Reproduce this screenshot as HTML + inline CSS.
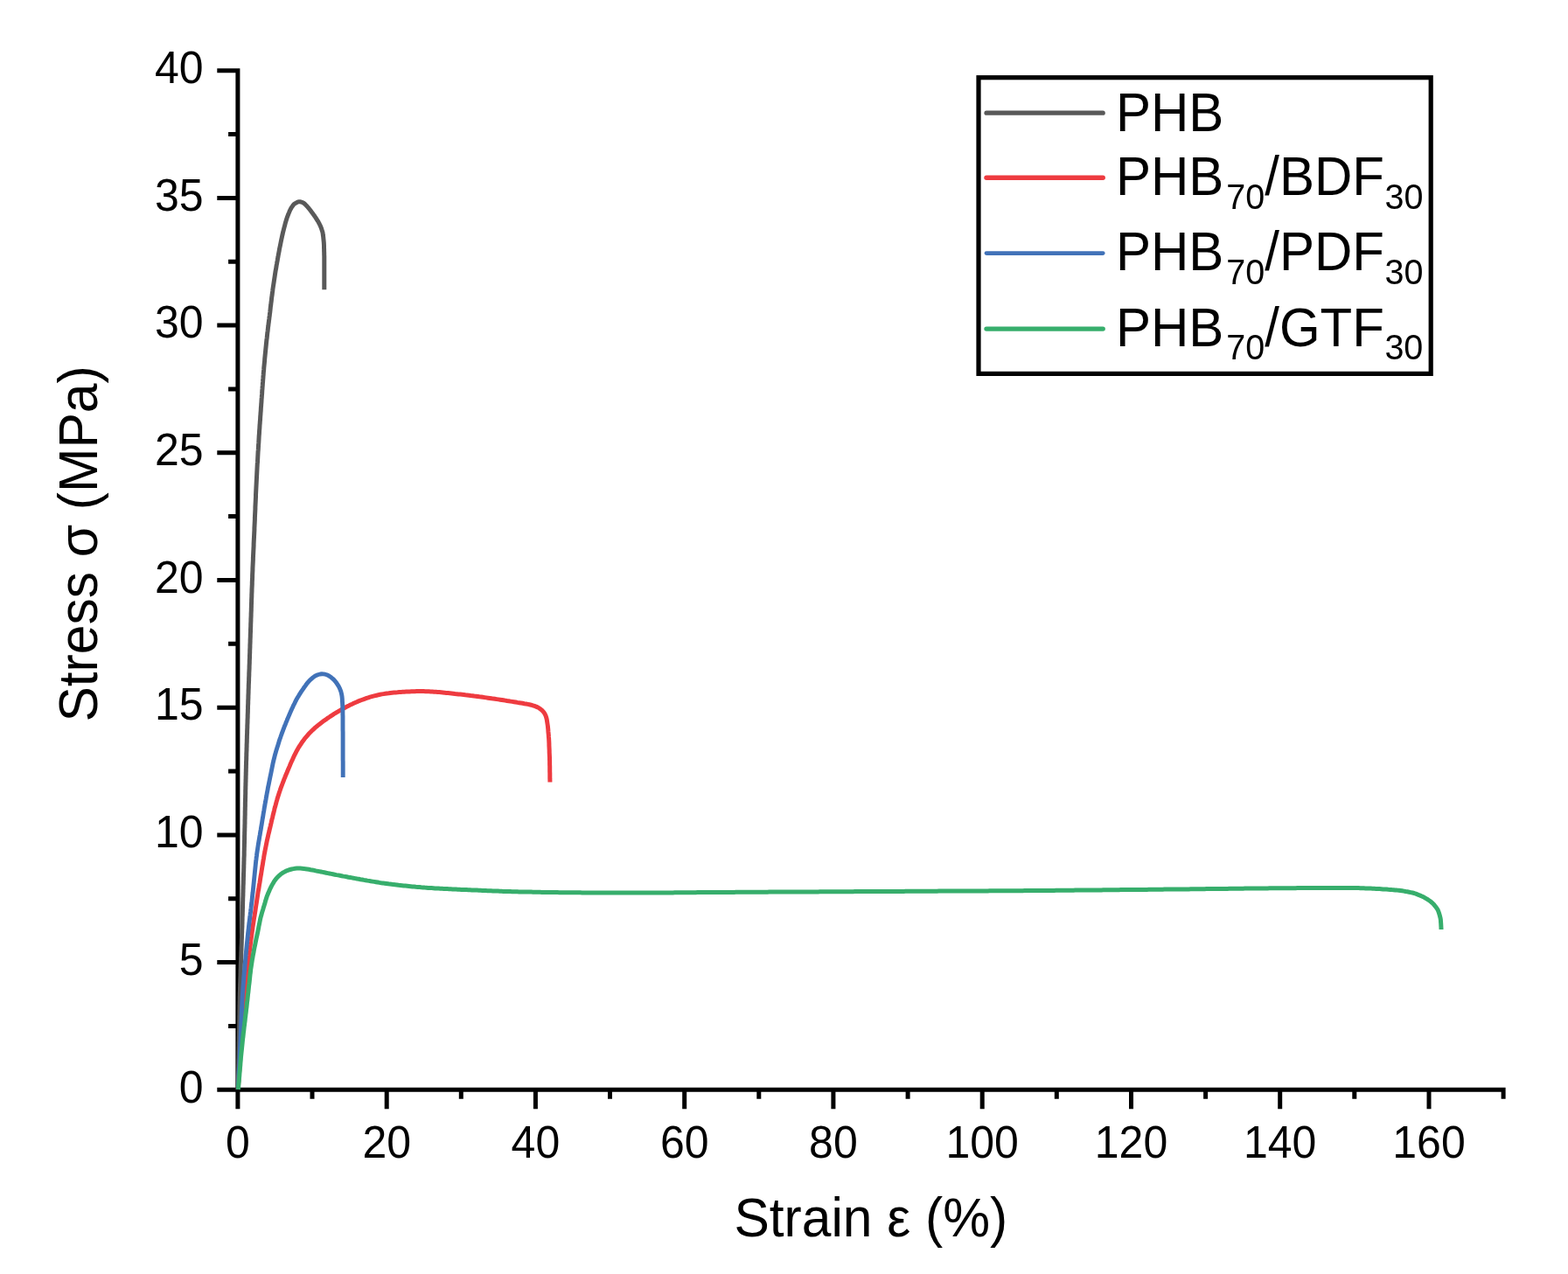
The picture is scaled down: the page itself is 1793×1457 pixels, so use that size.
<!DOCTYPE html>
<html><head><meta charset="utf-8"><title>Stress-strain curves</title>
<style>html,body{margin:0;padding:0;background:#fff;}body{width:1793px;height:1457px;overflow:hidden;}svg{display:block;}text{font-family:"Liberation Sans",Arial,sans-serif;fill:#000;}</style>
</head><body>
<svg width="1793" height="1457" viewBox="0 0 1793 1457">
<rect width="1793" height="1457" fill="#fff"/>
<path d="M271.9,78.2V1248.8 M269.4,1246.3H1721.6 M248.3,1246.3H271.9 M261.1,1173.5H271.9 M248.3,1100.6H271.9 M261.1,1027.8H271.9 M248.3,954.9H271.9 M261.1,882.0H271.9 M248.3,809.2H271.9 M261.1,736.3H271.9 M248.3,663.5H271.9 M261.1,590.6H271.9 M248.3,517.8H271.9 M261.1,444.9H271.9 M248.3,372.1H271.9 M261.1,299.2H271.9 M248.3,226.4H271.9 M261.1,153.5H271.9 M248.3,80.7H271.9 M271.9,1246.3V1268.3 M357.0,1246.3V1256.8 M442.2,1246.3V1268.3 M527.3,1246.3V1256.8 M612.4,1246.3V1268.3 M697.5,1246.3V1256.8 M782.7,1246.3V1268.3 M867.8,1246.3V1256.8 M952.9,1246.3V1268.3 M1038.1,1246.3V1256.8 M1123.2,1246.3V1268.3 M1208.3,1246.3V1256.8 M1293.5,1246.3V1268.3 M1378.6,1246.3V1256.8 M1463.7,1246.3V1268.3 M1548.8,1246.3V1256.8 M1634.0,1246.3V1268.3 M1719.1,1246.3V1256.8" fill="none" stroke="#000" stroke-width="5.0" stroke-linecap="butt"/>
<path d="M272.2,1246.0L272.2,1244.0 272.3,1242.0 272.3,1240.0 272.4,1238.0 272.4,1236.0 272.5,1234.0 272.5,1232.0 272.5,1230.0 272.6,1228.0 272.6,1226.0 272.7,1224.0 272.7,1222.0 272.8,1220.0 272.8,1218.0 272.9,1216.0 272.9,1214.0 272.9,1212.0 273.0,1210.0 273.0,1208.0 273.1,1206.0 273.1,1204.0 273.1,1202.0 273.2,1200.0 273.2,1198.0 273.3,1196.0 273.3,1194.0 273.3,1192.0 273.4,1190.0 273.4,1188.0 273.4,1186.0 273.5,1184.0 273.5,1182.0 273.5,1180.0 273.6,1178.0 273.6,1176.0 273.6,1174.0 273.7,1172.0 273.7,1170.0 273.7,1168.0 273.8,1166.0 273.8,1164.0 273.8,1162.0 273.9,1160.0 273.9,1158.0 273.9,1156.0 274.0,1154.0 274.0,1152.0 274.0,1150.0 274.1,1148.0 274.1,1146.0 274.2,1144.0 274.2,1142.0 274.2,1140.0 274.3,1138.0 274.3,1136.0 274.4,1134.0 274.5,1132.0 274.5,1130.0 274.6,1128.0 274.6,1126.0 274.7,1124.0 274.8,1122.0 274.8,1120.0 274.9,1118.0 275.0,1116.0 275.0,1114.0 275.1,1112.0 275.1,1110.0 275.2,1108.0 275.3,1106.0 275.3,1104.0 275.4,1102.0 275.5,1100.0 275.6,1098.0 275.6,1096.0 275.7,1094.0 275.8,1092.0 275.8,1090.0 275.9,1088.0 276.0,1086.0 276.0,1084.0 276.1,1082.0 276.2,1080.0 276.3,1078.0 276.3,1076.0 276.4,1074.0 276.5,1072.0 276.5,1070.0 276.6,1068.0 276.7,1066.0 276.7,1064.0 276.8,1062.0 276.9,1060.0 276.9,1058.0 277.0,1056.0 277.0,1054.0 277.1,1052.0 277.1,1050.0 277.2,1048.0 277.3,1046.0 277.3,1044.0 277.4,1042.0 277.4,1040.0 277.5,1038.0 277.5,1036.0 277.6,1034.0 277.6,1032.0 277.7,1030.0 277.7,1028.0 277.8,1026.0 277.9,1024.0 277.9,1022.0 278.0,1020.0 278.0,1018.0 278.1,1016.0 278.1,1014.0 278.2,1012.0 278.3,1010.0 278.3,1008.0 278.4,1006.0 278.4,1004.0 278.5,1002.0 278.5,1000.0 278.6,998.0 278.7,996.0 278.7,994.0 278.8,992.0 278.8,990.0 278.9,988.0 278.9,986.0 279.0,984.0 279.0,982.0 279.1,980.0 279.2,978.0 279.2,976.0 279.2,974.0 279.3,972.0 279.3,970.0 279.4,968.0 279.4,966.0 279.5,964.0 279.5,962.0 279.6,960.0 279.6,958.0 279.6,956.0 279.7,954.0 279.7,952.0 279.8,950.0 279.8,948.0 279.9,946.0 279.9,944.0 280.0,942.0 280.0,940.0 280.0,938.0 280.1,936.0 280.1,934.0 280.2,932.0 280.2,930.0 280.2,928.0 280.3,926.0 280.3,924.0 280.4,922.0 280.4,920.0 280.4,918.0 280.5,916.0 280.5,914.0 280.6,912.0 280.6,910.0 280.7,908.0 280.7,906.0 280.7,904.0 280.8,902.0 280.8,900.0 280.9,898.0 280.9,896.0 281.0,894.0 281.0,892.0 281.1,890.0 281.1,888.0 281.2,886.0 281.2,884.0 281.3,882.0 281.3,880.0 281.4,878.0 281.4,876.0 281.5,874.0 281.5,872.0 281.6,870.0 281.7,868.0 281.7,866.0 281.8,864.0 281.8,862.0 281.9,860.0 282.0,858.0 282.0,856.0 282.1,854.0 282.1,852.0 282.2,850.0 282.3,848.0 282.3,846.0 282.4,844.0 282.4,842.0 282.5,840.0 282.6,838.0 282.6,836.0 282.7,834.0 282.8,832.0 282.8,830.0 282.9,828.0 283.0,826.1 283.0,824.1 283.1,822.1 283.2,820.1 283.2,818.1 283.3,816.1 283.4,814.1 283.4,812.1 283.5,810.1 283.5,808.1 283.6,806.1 283.7,804.1 283.7,802.1 283.8,800.1 283.9,798.1 283.9,796.1 284.0,794.1 284.1,792.1 284.1,790.1 284.2,788.1 284.3,786.1 284.3,784.1 284.4,782.1 284.5,780.1 284.6,778.1 284.6,776.1 284.7,774.1 284.8,772.1 284.8,770.1 284.9,768.1 285.0,766.1 285.1,764.1 285.1,762.1 285.2,760.1 285.3,758.1 285.3,756.1 285.4,754.1 285.5,752.1 285.5,750.1 285.6,748.1 285.7,746.1 285.7,744.1 285.8,742.1 285.9,740.1 285.9,738.1 286.0,736.1 286.1,734.1 286.1,732.1 286.2,730.1 286.3,728.1 286.3,726.1 286.4,724.1 286.5,722.1 286.5,720.1 286.6,718.1 286.7,716.1 286.7,714.1 286.8,712.1 286.9,710.1 286.9,708.1 287.0,706.1 287.1,704.1 287.1,702.1 287.2,700.1 287.3,698.1 287.3,696.1 287.4,694.1 287.4,692.1 287.5,690.1 287.6,688.1 287.6,686.1 287.7,684.1 287.8,682.1 287.8,680.1 287.9,678.1 288.0,676.1 288.0,674.1 288.1,672.1 288.2,670.1 288.3,668.1 288.3,666.1 288.4,664.1 288.5,662.1 288.6,660.1 288.6,658.1 288.7,656.1 288.8,654.1 288.9,652.1 288.9,650.1 289.0,648.1 289.1,646.1 289.2,644.1 289.3,642.1 289.4,640.1 289.4,638.1 289.5,636.1 289.6,634.1 289.7,632.1 289.8,630.1 289.9,628.1 290.0,626.1 290.1,624.1 290.1,622.1 290.2,620.1 290.3,618.1 290.4,616.1 290.5,614.1 290.6,612.1 290.7,610.1 290.8,608.1 290.9,606.1 290.9,604.1 291.0,602.1 291.1,600.1 291.2,598.1 291.3,596.2 291.4,594.2 291.4,592.2 291.5,590.2 291.6,588.2 291.7,586.2 291.8,584.2 291.9,582.2 291.9,580.2 292.0,578.2 292.1,576.2 292.2,574.2 292.3,572.2 292.4,570.2 292.5,568.2 292.5,566.2 292.6,564.2 292.7,562.2 292.8,560.2 292.9,558.2 293.0,556.2 293.1,554.2 293.2,552.2 293.3,550.2 293.4,548.2 293.5,546.2 293.6,544.2 293.7,542.2 293.8,540.2 293.9,538.2 294.0,536.2 294.1,534.2 294.2,532.2 294.3,530.2 294.5,528.2 294.6,526.2 294.7,524.2 294.8,522.2 294.9,520.2 295.0,518.2 295.1,516.2 295.3,514.2 295.4,512.2 295.5,510.2 295.6,508.2 295.8,506.2 295.9,504.2 296.0,502.3 296.1,500.3 296.2,498.3 296.4,496.3 296.5,494.3 296.6,492.3 296.8,490.3 296.9,488.3 297.0,486.3 297.2,484.3 297.3,482.3 297.5,480.3 297.6,478.3 297.7,476.3 297.9,474.3 298.0,472.3 298.2,470.3 298.3,468.3 298.4,466.3 298.6,464.3 298.7,462.3 298.9,460.3 299.0,458.3 299.1,456.3 299.3,454.4 299.4,452.4 299.6,450.4 299.7,448.4 299.8,446.4 300.0,444.4 300.1,442.4 300.3,440.4 300.4,438.4 300.6,436.4 300.7,434.4 300.9,432.4 301.0,430.4 301.2,428.4 301.3,426.4 301.5,424.4 301.7,422.4 301.8,420.4 302.0,418.4 302.2,416.5 302.4,414.5 302.6,412.5 302.7,410.5 302.9,408.5 303.1,406.5 303.3,404.5 303.5,402.5 303.7,400.5 303.9,398.5 304.1,396.5 304.3,394.6 304.5,392.6 304.7,390.6 304.9,388.6 305.2,386.6 305.4,384.6 305.6,382.6 305.8,380.6 306.1,378.6 306.3,376.7 306.5,374.7 306.8,372.7 307.0,370.7 307.3,368.7 307.5,366.7 307.8,364.8 308.0,362.8 308.3,360.8 308.5,358.8 308.8,356.8 309.0,354.8 309.2,352.8 309.4,350.8 309.7,348.9 309.9,346.9 310.2,344.9 310.4,342.9 310.6,340.9 310.9,338.9 311.2,336.9 311.4,335.0 311.7,333.0 311.9,331.0 312.2,329.0 312.5,327.0 312.8,325.1 313.1,323.1 313.4,321.1 313.7,319.1 314.0,317.1 314.3,315.2 314.6,313.2 314.9,311.2 315.2,309.2 315.6,307.3 315.9,305.3 316.2,303.3 316.6,301.4 316.9,299.4 317.3,297.4 317.6,295.4 318.0,293.5 318.3,291.5 318.7,289.5 319.1,287.6 319.4,285.6 319.8,283.6 320.2,281.7 320.6,279.7 321.0,277.8 321.4,275.8 321.8,273.8 322.2,271.9 322.6,269.9 323.1,268.0 323.5,266.0 324.0,264.1 324.5,262.1 325.0,260.2 325.5,258.3 326.0,256.3 326.5,254.4 327.1,252.5 327.7,250.6 328.3,248.7 329.0,246.8 329.7,245.0 330.5,243.1 331.2,241.3 332.1,239.5 333.1,237.7 334.2,236.1 335.3,234.5 336.7,233.1 338.4,232.1 340.1,231.2 341.9,230.7 343.7,230.8 345.6,231.4 347.3,232.3 348.8,233.5 350.2,234.9 351.5,236.4 352.8,237.9 354.1,239.5 355.3,241.1 356.5,242.7 357.7,244.3 358.9,245.9 360.0,247.5 361.1,249.2 362.2,250.9 363.3,252.6 364.3,254.3 365.2,256.0 366.1,257.8 366.9,259.7 367.6,261.5 368.2,263.4 368.8,265.3 369.2,267.3 369.4,269.2 369.7,271.2 369.9,273.2 370.1,275.2 370.3,277.2 370.4,279.2 370.5,281.2 370.5,283.2 370.6,285.2 370.6,287.2 370.7,289.2 370.7,291.2 370.8,293.2 370.8,295.2 370.8,297.2 370.8,299.2 370.8,301.2 370.8,303.2 370.8,305.2 370.8,307.2 370.8,309.2 370.8,311.2 370.8,313.2 370.8,315.2 370.8,317.2 370.8,319.2 370.8,321.2 370.8,323.2 370.8,325.2 370.8,327.2 370.8,329.2 370.8,331.2" fill="none" stroke="#595959" stroke-width="5.0" stroke-linejoin="round" stroke-linecap="butt"/>
<path d="M272.2,1246.0L272.3,1244.0 272.5,1242.0 272.6,1240.0 272.7,1238.0 272.9,1236.0 273.0,1234.0 273.1,1232.0 273.3,1230.0 273.4,1228.0 273.6,1226.0 273.7,1224.0 273.8,1222.0 274.0,1220.1 274.1,1218.1 274.2,1216.1 274.4,1214.1 274.5,1212.1 274.6,1210.1 274.8,1208.1 274.9,1206.1 275.1,1204.1 275.2,1202.1 275.3,1200.1 275.5,1198.1 275.6,1196.1 275.7,1194.1 275.9,1192.1 276.0,1190.1 276.2,1188.1 276.3,1186.1 276.5,1184.1 276.6,1182.1 276.8,1180.1 276.9,1178.1 277.1,1176.1 277.2,1174.1 277.4,1172.2 277.5,1170.2 277.7,1168.2 277.8,1166.2 278.0,1164.2 278.1,1162.2 278.3,1160.2 278.4,1158.2 278.6,1156.2 278.7,1154.2 278.9,1152.2 279.1,1150.2 279.2,1148.2 279.4,1146.2 279.6,1144.2 279.7,1142.2 279.9,1140.2 280.1,1138.3 280.3,1136.3 280.5,1134.3 280.6,1132.3 280.8,1130.3 281.0,1128.3 281.2,1126.3 281.4,1124.3 281.6,1122.3 281.8,1120.3 282.0,1118.3 282.2,1116.4 282.4,1114.4 282.7,1112.4 282.9,1110.4 283.1,1108.4 283.3,1106.4 283.5,1104.4 283.7,1102.4 284.0,1100.4 284.2,1098.5 284.4,1096.5 284.6,1094.5 284.9,1092.5 285.1,1090.5 285.3,1088.5 285.6,1086.5 285.8,1084.5 286.0,1082.6 286.3,1080.6 286.5,1078.6 286.8,1076.6 287.0,1074.6 287.3,1072.6 287.6,1070.6 287.8,1068.7 288.1,1066.7 288.4,1064.7 288.7,1062.7 288.9,1060.7 289.2,1058.8 289.5,1056.8 289.8,1054.8 290.1,1052.8 290.4,1050.9 290.7,1048.9 291.1,1046.9 291.4,1044.9 291.7,1042.9 292.0,1041.0 292.3,1039.0 292.6,1037.0 292.9,1035.0 293.2,1033.1 293.5,1031.1 293.8,1029.1 294.1,1027.1 294.4,1025.2 294.7,1023.2 295.0,1021.2 295.3,1019.2 295.7,1017.3 296.0,1015.3 296.3,1013.3 296.6,1011.3 297.0,1009.4 297.3,1007.4 297.6,1005.4 297.9,1003.4 298.2,1001.5 298.6,999.5 298.9,997.5 299.2,995.5 299.5,993.6 299.8,991.6 300.2,989.6 300.5,987.6 300.8,985.7 301.1,983.7 301.5,981.7 301.8,979.7 302.1,977.8 302.5,975.8 302.9,973.8 303.2,971.9 303.6,969.9 304.0,967.9 304.4,966.0 304.8,964.0 305.2,962.1 305.6,960.1 306.1,958.2 306.5,956.2 306.9,954.3 307.4,952.3 307.9,950.4 308.3,948.4 308.8,946.5 309.3,944.5 309.7,942.6 310.2,940.6 310.6,938.7 311.1,936.7 311.6,934.8 312.0,932.9 312.5,930.9 313.0,929.0 313.5,927.0 313.9,925.1 314.4,923.2 315.0,921.2 315.5,919.3 316.0,917.4 316.6,915.4 317.1,913.5 317.7,911.6 318.3,909.7 318.9,907.8 319.5,905.9 320.2,904.0 320.8,902.1 321.5,900.2 322.2,898.4 322.9,896.5 323.6,894.6 324.3,892.8 325.0,890.9 325.8,889.0 326.5,887.2 327.3,885.3 328.1,883.5 328.8,881.7 329.6,879.8 330.4,878.0 331.2,876.1 331.9,874.3 332.7,872.5 333.5,870.6 334.4,868.8 335.2,867.0 336.0,865.2 336.9,863.4 337.8,861.6 338.7,859.8 339.7,858.1 340.6,856.4 341.6,854.6 342.7,853.0 343.8,851.3 344.9,849.6 346.0,848.0 347.2,846.4 348.4,844.8 349.6,843.3 350.9,841.8 352.2,840.3 353.6,838.8 354.9,837.4 356.3,836.0 357.8,834.6 359.2,833.3 360.7,831.9 362.2,830.7 363.8,829.4 365.3,828.2 366.9,827.0 368.5,825.8 370.1,824.6 371.7,823.4 373.4,822.3 375.0,821.1 376.7,820.0 378.3,818.9 380.0,817.8 381.7,816.7 383.4,815.7 385.1,814.6 386.8,813.6 388.5,812.6 390.2,811.6 392.0,810.6 393.7,809.7 395.5,808.7 397.3,807.8 399.1,806.9 400.8,806.0 402.6,805.2 404.5,804.3 406.3,803.5 408.1,802.7 409.9,801.9 411.8,801.2 413.6,800.5 415.5,799.8 417.4,799.1 419.3,798.4 421.2,797.8 423.1,797.2 425.0,796.7 426.9,796.2 428.8,795.7 430.8,795.2 432.7,794.7 434.6,794.3 436.6,793.9 438.6,793.6 440.5,793.3 442.5,793.0 444.5,792.8 446.5,792.5 448.5,792.3 450.5,792.1 452.5,791.9 454.5,791.8 456.5,791.6 458.5,791.4 460.4,791.3 462.4,791.2 464.4,791.1 466.4,791.0 468.4,790.9 470.4,790.8 472.4,790.7 474.4,790.7 476.4,790.6 478.4,790.6 480.4,790.6 482.4,790.6 484.4,790.6 486.4,790.7 488.4,790.7 490.4,790.8 492.4,790.9 494.4,791.0 496.4,791.2 498.4,791.3 500.4,791.5 502.4,791.6 504.4,791.8 506.4,792.0 508.4,792.2 510.4,792.4 512.3,792.6 514.3,792.8 516.3,793.0 518.3,793.2 520.3,793.5 522.3,793.7 524.3,793.9 526.3,794.1 528.3,794.3 530.3,794.5 532.2,794.8 534.2,795.0 536.2,795.2 538.2,795.5 540.2,795.7 542.2,796.0 544.2,796.2 546.1,796.5 548.1,796.8 550.1,797.0 552.1,797.3 554.1,797.6 556.0,797.9 558.0,798.2 560.0,798.5 562.0,798.8 564.0,799.1 565.9,799.3 567.9,799.6 569.9,799.9 571.9,800.2 573.9,800.5 575.8,800.8 577.8,801.1 579.8,801.5 581.8,801.8 583.7,802.1 585.7,802.4 587.7,802.7 589.7,803.0 591.6,803.4 593.6,803.7 595.6,804.0 597.6,804.3 599.5,804.7 601.5,805.0 603.5,805.4 605.4,805.8 607.4,806.2 609.3,806.8 611.2,807.4 613.0,808.1 614.8,808.9 616.6,809.9 618.2,811.1 619.7,812.3 621.1,813.7 622.3,815.3 623.3,817.0 624.1,818.8 624.7,820.6 625.2,822.6 625.5,824.5 625.8,826.5 626.1,828.5 626.4,830.5 626.6,832.4 626.8,834.4 626.9,836.4 627.1,838.4 627.3,840.4 627.4,842.4 627.6,844.4 627.7,846.4 627.8,848.4 627.9,850.4 627.9,852.4 628.0,854.4 628.1,856.4 628.2,858.4 628.2,860.4 628.3,862.4 628.4,864.4 628.5,866.4 628.5,868.4 628.6,870.4 628.6,872.4 628.6,874.4 628.7,876.4 628.7,878.4 628.7,880.4 628.7,882.4 628.8,884.4 628.8,886.4 628.8,888.4 628.8,890.4 628.9,892.4 628.9,894.4" fill="none" stroke="#EE3B40" stroke-width="5.0" stroke-linejoin="round" stroke-linecap="butt"/>
<path d="M272.2,1246.0L272.3,1244.0 272.4,1242.0 272.5,1240.0 272.6,1238.0 272.7,1236.0 272.8,1234.0 272.9,1232.0 273.0,1230.0 273.1,1228.0 273.2,1226.0 273.3,1224.0 273.4,1222.0 273.6,1220.0 273.7,1218.0 273.8,1216.0 273.9,1214.0 274.0,1212.0 274.1,1210.0 274.2,1208.0 274.2,1206.0 274.3,1204.0 274.4,1202.0 274.5,1200.0 274.6,1198.0 274.7,1196.0 274.8,1194.0 274.9,1192.0 275.0,1190.0 275.1,1188.0 275.1,1186.0 275.2,1184.0 275.3,1182.0 275.4,1180.0 275.5,1178.0 275.6,1176.0 275.6,1174.0 275.7,1172.0 275.8,1170.0 275.9,1168.0 276.0,1166.0 276.1,1164.0 276.1,1162.0 276.2,1160.0 276.3,1158.0 276.4,1156.0 276.5,1154.0 276.6,1152.0 276.7,1150.0 276.8,1148.0 276.9,1146.0 277.0,1144.0 277.1,1142.0 277.2,1140.0 277.4,1138.0 277.5,1136.0 277.6,1134.0 277.8,1132.0 277.9,1130.0 278.1,1128.0 278.2,1126.0 278.4,1124.0 278.5,1122.0 278.7,1120.0 278.8,1118.0 279.0,1116.0 279.2,1114.0 279.3,1112.0 279.5,1110.0 279.7,1108.0 279.9,1106.0 280.0,1104.0 280.2,1102.0 280.4,1100.0 280.6,1098.0 280.8,1096.1 280.9,1094.1 281.1,1092.1 281.3,1090.1 281.5,1088.1 281.7,1086.1 281.9,1084.1 282.1,1082.1 282.3,1080.1 282.5,1078.1 282.7,1076.1 282.9,1074.1 283.1,1072.1 283.3,1070.1 283.5,1068.1 283.7,1066.2 284.0,1064.2 284.2,1062.2 284.4,1060.2 284.6,1058.2 284.9,1056.2 285.1,1054.2 285.4,1052.2 285.6,1050.2 285.8,1048.3 286.1,1046.3 286.3,1044.3 286.6,1042.3 286.8,1040.3 287.1,1038.3 287.3,1036.3 287.5,1034.3 287.8,1032.4 288.0,1030.4 288.2,1028.4 288.4,1026.4 288.6,1024.4 288.8,1022.4 289.1,1020.4 289.3,1018.4 289.5,1016.4 289.7,1014.4 289.9,1012.4 290.1,1010.4 290.3,1008.5 290.5,1006.5 290.7,1004.5 290.9,1002.5 291.1,1000.5 291.3,998.5 291.5,996.5 291.7,994.5 291.9,992.5 292.1,990.5 292.3,988.5 292.5,986.5 292.7,984.6 293.0,982.6 293.2,980.6 293.5,978.6 293.7,976.6 294.0,974.6 294.3,972.7 294.6,970.7 294.9,968.7 295.2,966.7 295.5,964.7 295.8,962.8 296.2,960.8 296.5,958.8 296.8,956.8 297.2,954.9 297.5,952.9 297.8,950.9 298.2,948.9 298.5,947.0 298.8,945.0 299.2,943.0 299.5,941.0 299.8,939.1 300.1,937.1 300.5,935.1 300.8,933.1 301.1,931.2 301.4,929.2 301.8,927.2 302.1,925.2 302.4,923.3 302.8,921.3 303.1,919.3 303.5,917.3 303.8,915.4 304.2,913.4 304.5,911.4 304.9,909.5 305.2,907.5 305.6,905.5 306.0,903.6 306.3,901.6 306.7,899.6 307.1,897.7 307.5,895.7 307.9,893.7 308.3,891.8 308.7,889.8 309.1,887.8 309.5,885.9 309.9,883.9 310.3,881.9 310.7,880.0 311.1,878.0 311.5,876.1 311.9,874.1 312.3,872.1 312.8,870.2 313.2,868.3 313.7,866.3 314.2,864.4 314.7,862.4 315.3,860.5 315.8,858.6 316.4,856.7 317.0,854.8 317.6,852.9 318.2,851.0 318.8,849.0 319.4,847.1 320.0,845.2 320.7,843.3 321.3,841.5 322.0,839.6 322.7,837.7 323.4,835.8 324.1,833.9 324.8,832.1 325.5,830.2 326.3,828.4 327.0,826.5 327.8,824.6 328.5,822.8 329.3,821.0 330.1,819.1 330.9,817.3 331.7,815.4 332.5,813.6 333.3,811.8 334.1,810.0 335.0,808.1 335.8,806.3 336.7,804.6 337.6,802.7 338.5,801.0 339.4,799.2 340.4,797.5 341.5,795.8 342.5,794.1 343.6,792.4 344.7,790.7 345.8,789.1 347.0,787.4 348.1,785.7 349.3,784.1 350.4,782.5 351.7,780.9 353.0,779.4 354.3,778.0 355.8,776.6 357.3,775.3 358.9,774.1 360.5,773.0 362.3,772.1 364.1,771.5 366.0,771.0 368.0,770.8 369.9,770.9 371.9,771.2 373.7,771.8 375.5,772.6 377.2,773.6 378.8,774.8 380.4,776.1 381.8,777.4 383.1,778.9 384.4,780.5 385.5,782.1 386.6,783.8 387.6,785.5 388.5,787.3 389.2,789.2 389.9,791.0 390.4,793.0 390.8,794.9 391.1,796.9 391.3,798.9 391.4,800.9 391.5,802.9 391.6,804.9 391.7,806.9 391.8,808.9 391.8,810.9 391.9,812.9 391.9,814.9 391.9,816.9 392.0,818.9 392.0,820.9 392.0,822.9 392.0,824.9 392.0,826.9 392.0,828.9 392.0,830.9 392.0,832.9 392.0,834.9 392.1,836.9 392.1,838.9 392.1,840.9 392.1,842.9 392.1,844.9 392.1,846.9 392.1,848.9 392.1,850.9 392.1,852.9 392.1,855.0 392.1,857.0 392.1,859.0 392.1,861.0 392.1,863.0 392.1,865.0 392.1,867.0 392.1,869.0 392.2,871.0 392.2,873.0 392.2,875.0 392.2,877.0 392.2,879.0 392.2,881.0 392.2,883.0 392.2,885.0 392.2,887.0 392.2,889.0" fill="none" stroke="#4172B8" stroke-width="4.9" stroke-linejoin="round" stroke-linecap="butt"/>
<path d="M272.4,1246.0L272.6,1244.0 272.7,1242.0 272.9,1240.0 273.1,1238.0 273.3,1236.0 273.4,1234.0 273.6,1232.0 273.8,1230.1 273.9,1228.1 274.1,1226.1 274.3,1224.1 274.4,1222.1 274.6,1220.1 274.8,1218.1 274.9,1216.1 275.1,1214.1 275.3,1212.1 275.4,1210.1 275.6,1208.1 275.8,1206.1 276.0,1204.1 276.2,1202.2 276.4,1200.2 276.6,1198.2 276.8,1196.2 277.0,1194.2 277.2,1192.2 277.4,1190.2 277.6,1188.2 277.9,1186.2 278.1,1184.3 278.3,1182.3 278.5,1180.3 278.8,1178.3 279.0,1176.3 279.2,1174.3 279.5,1172.3 279.7,1170.4 280.0,1168.4 280.2,1166.4 280.4,1164.4 280.7,1162.4 280.9,1160.4 281.2,1158.4 281.4,1156.5 281.6,1154.5 281.9,1152.5 282.1,1150.5 282.3,1148.5 282.5,1146.5 282.8,1144.5 283.0,1142.5 283.2,1140.6 283.4,1138.6 283.6,1136.6 283.9,1134.6 284.1,1132.6 284.3,1130.6 284.5,1128.6 284.7,1126.6 285.0,1124.6 285.2,1122.7 285.4,1120.7 285.6,1118.7 285.8,1116.7 286.0,1114.7 286.3,1112.7 286.5,1110.7 286.7,1108.7 287.0,1106.8 287.3,1104.8 287.6,1102.8 287.9,1100.8 288.2,1098.9 288.5,1096.9 288.9,1094.9 289.2,1093.0 289.6,1091.0 290.0,1089.0 290.3,1087.1 290.7,1085.1 291.1,1083.1 291.5,1081.2 291.9,1079.2 292.3,1077.2 292.7,1075.3 293.1,1073.3 293.5,1071.4 294.0,1069.4 294.4,1067.5 294.8,1065.5 295.2,1063.5 295.6,1061.6 295.9,1059.6 296.3,1057.7 296.7,1055.7 297.1,1053.7 297.5,1051.8 297.9,1049.8 298.4,1047.9 299.0,1046.0 299.5,1044.0 300.1,1042.1 300.7,1040.2 301.2,1038.3 301.8,1036.4 302.4,1034.5 303.0,1032.5 303.5,1030.6 304.1,1028.7 304.7,1026.8 305.3,1024.9 306.1,1023.0 306.8,1021.2 307.6,1019.4 308.4,1017.5 309.3,1015.7 310.2,1013.9 311.1,1012.2 312.1,1010.4 313.1,1008.7 314.2,1007.0 315.4,1005.4 316.7,1003.9 318.0,1002.5 319.5,1001.1 321.0,999.8 322.6,998.7 324.3,997.6 326.0,996.7 327.8,995.8 329.7,995.1 331.6,994.5 333.5,994.0 335.4,993.6 337.4,993.3 339.4,993.1 341.4,993.0 343.4,993.1 345.4,993.2 347.4,993.4 349.3,993.7 351.3,994.0 353.3,994.3 355.3,994.7 357.2,995.0 359.2,995.4 361.1,995.9 363.1,996.3 365.1,996.6 367.0,997.0 369.0,997.4 370.9,997.8 372.9,998.2 374.9,998.6 376.8,999.0 378.8,999.4 380.7,999.8 382.7,1000.2 384.7,1000.6 386.6,1000.9 388.6,1001.3 390.6,1001.7 392.5,1002.1 394.5,1002.4 396.5,1002.8 398.4,1003.2 400.4,1003.5 402.4,1003.9 404.3,1004.3 406.3,1004.6 408.3,1005.0 410.2,1005.3 412.2,1005.7 414.2,1006.0 416.1,1006.4 418.1,1006.7 420.1,1007.1 422.0,1007.4 424.0,1007.8 426.0,1008.1 428.0,1008.4 429.9,1008.7 431.9,1009.0 433.9,1009.4 435.9,1009.7 437.8,1009.9 439.8,1010.2 441.8,1010.5 443.8,1010.8 445.8,1011.1 447.7,1011.3 449.7,1011.6 451.7,1011.8 453.7,1012.0 455.7,1012.3 457.7,1012.5 459.7,1012.7 461.7,1012.9 463.6,1013.1 465.6,1013.3 467.6,1013.5 469.6,1013.7 471.6,1013.9 473.6,1014.1 475.6,1014.3 477.6,1014.4 479.6,1014.6 481.6,1014.8 483.6,1014.9 485.6,1015.1 487.6,1015.2 489.5,1015.4 491.5,1015.5 493.5,1015.6 495.5,1015.7 497.5,1015.9 499.5,1016.0 501.5,1016.1 503.5,1016.2 505.5,1016.3 507.5,1016.4 509.5,1016.5 511.5,1016.6 513.5,1016.7 515.5,1016.8 517.5,1016.9 519.5,1017.0 521.5,1017.1 523.5,1017.2 525.5,1017.3 527.5,1017.4 529.5,1017.5 531.5,1017.5 533.5,1017.6 535.5,1017.7 537.5,1017.8 539.5,1017.9 541.5,1018.0 543.5,1018.1 545.5,1018.1 547.5,1018.2 549.5,1018.3 551.5,1018.4 553.5,1018.5 555.5,1018.6 557.5,1018.7 559.5,1018.7 561.5,1018.8 563.5,1018.9 565.5,1019.0 567.5,1019.1 569.5,1019.1 571.5,1019.2 573.5,1019.3 575.5,1019.4 577.5,1019.4 579.5,1019.5 581.5,1019.6 583.5,1019.6 585.5,1019.7 587.5,1019.7 589.5,1019.8 591.5,1019.8 593.5,1019.9 595.5,1019.9 597.5,1019.9 599.5,1020.0 601.5,1020.0 603.5,1020.1 605.5,1020.1 607.5,1020.1 609.5,1020.2 611.5,1020.2 613.5,1020.3 615.5,1020.3 617.5,1020.3 619.5,1020.4 621.5,1020.4 623.5,1020.4 625.5,1020.5 627.5,1020.5 629.5,1020.5 631.5,1020.6 633.5,1020.6 635.5,1020.6 637.5,1020.6 639.5,1020.7 641.5,1020.7 643.5,1020.7 645.5,1020.7 647.5,1020.7 649.5,1020.7 651.5,1020.8 653.5,1020.8 655.5,1020.8 657.5,1020.8 659.5,1020.8 661.5,1020.8 663.5,1020.8 665.5,1020.9 667.5,1020.9 669.5,1020.9 671.5,1020.9 673.5,1020.9 675.5,1020.9 677.5,1021.0 679.5,1021.0 681.5,1021.0 683.5,1021.0 685.5,1021.0 687.5,1021.0 689.5,1021.0 691.5,1021.0 693.5,1021.0 695.5,1021.1 697.5,1021.1 699.5,1021.1 701.5,1021.1 703.5,1021.1 705.5,1021.1 707.5,1021.1 709.5,1021.1 711.5,1021.1 713.5,1021.0 715.5,1021.0 717.5,1021.0 719.5,1021.0 721.5,1021.0 723.5,1021.0 725.5,1021.0 727.5,1021.0 729.5,1021.0 731.5,1021.0 733.5,1021.0 735.5,1021.0 737.5,1021.0 739.5,1021.0 741.5,1021.0 743.5,1021.0 745.5,1021.0 747.5,1020.9 749.5,1020.9 751.5,1020.9 753.5,1020.9 755.5,1020.9 757.5,1020.9 759.5,1020.9 761.5,1020.9 763.5,1020.9 765.5,1020.9 767.5,1020.9 769.5,1020.9 771.5,1020.8 773.5,1020.8 775.5,1020.8 777.5,1020.8 779.5,1020.8 781.5,1020.8 783.5,1020.8 785.5,1020.7 787.5,1020.7 789.5,1020.7 791.5,1020.7 793.5,1020.7 795.5,1020.7 797.5,1020.6 799.5,1020.6 801.5,1020.6 803.5,1020.6 805.5,1020.6 807.5,1020.6 809.5,1020.6 811.5,1020.5 813.5,1020.5 815.5,1020.5 817.5,1020.5 819.5,1020.5 821.5,1020.5 823.5,1020.5 825.5,1020.4 827.5,1020.4 829.5,1020.4 831.5,1020.4 833.5,1020.4 835.5,1020.4 837.5,1020.4 839.5,1020.4 841.5,1020.3 843.5,1020.3 845.5,1020.3 847.5,1020.3 849.5,1020.3 851.5,1020.3 853.5,1020.3 855.5,1020.3 857.5,1020.3 859.5,1020.2 861.5,1020.2 863.5,1020.2 865.5,1020.2 867.5,1020.2 869.5,1020.2 871.5,1020.2 873.5,1020.2 875.5,1020.2 877.5,1020.2 879.5,1020.1 881.5,1020.1 883.5,1020.1 885.5,1020.1 887.5,1020.1 889.5,1020.1 891.5,1020.1 893.5,1020.1 895.5,1020.1 897.5,1020.1 899.5,1020.0 901.5,1020.0 903.5,1020.0 905.5,1020.0 907.5,1020.0 909.5,1020.0 911.5,1020.0 913.5,1020.0 915.5,1020.0 917.5,1020.0 919.5,1019.9 921.5,1019.9 923.5,1019.9 925.5,1019.9 927.5,1019.9 929.5,1019.9 931.5,1019.9 933.5,1019.9 935.5,1019.9 937.5,1019.8 939.5,1019.8 941.5,1019.8 943.5,1019.8 945.5,1019.8 947.5,1019.8 949.5,1019.8 951.5,1019.8 953.5,1019.8 955.5,1019.8 957.5,1019.7 959.5,1019.7 961.5,1019.7 963.5,1019.7 965.5,1019.7 967.5,1019.7 969.5,1019.7 971.5,1019.7 973.5,1019.7 975.5,1019.7 977.5,1019.6 979.5,1019.6 981.5,1019.6 983.5,1019.6 985.5,1019.6 987.5,1019.6 989.5,1019.6 991.5,1019.6 993.5,1019.6 995.5,1019.5 997.5,1019.5 999.5,1019.5 1001.5,1019.5 1003.5,1019.5 1005.5,1019.5 1007.5,1019.5 1009.5,1019.5 1011.5,1019.5 1013.5,1019.5 1015.5,1019.4 1017.5,1019.4 1019.5,1019.4 1021.5,1019.4 1023.5,1019.4 1025.5,1019.4 1027.5,1019.4 1029.5,1019.4 1031.5,1019.4 1033.5,1019.4 1035.5,1019.3 1037.5,1019.3 1039.5,1019.3 1041.5,1019.3 1043.5,1019.3 1045.5,1019.3 1047.5,1019.3 1049.5,1019.3 1051.5,1019.3 1053.5,1019.3 1055.5,1019.2 1057.5,1019.2 1059.5,1019.2 1061.5,1019.2 1063.5,1019.2 1065.5,1019.2 1067.5,1019.2 1069.5,1019.2 1071.5,1019.2 1073.5,1019.1 1075.5,1019.1 1077.5,1019.1 1079.5,1019.1 1081.5,1019.1 1083.5,1019.1 1085.5,1019.1 1087.5,1019.1 1089.5,1019.1 1091.5,1019.1 1093.5,1019.0 1095.5,1019.0 1097.5,1019.0 1099.5,1019.0 1101.5,1019.0 1103.5,1019.0 1105.5,1019.0 1107.5,1019.0 1109.5,1019.0 1111.5,1019.0 1113.5,1018.9 1115.5,1018.9 1117.5,1018.9 1119.5,1018.9 1121.5,1018.9 1123.5,1018.9 1125.5,1018.9 1127.5,1018.9 1129.5,1018.9 1131.5,1018.8 1133.5,1018.8 1135.5,1018.8 1137.5,1018.8 1139.5,1018.8 1141.5,1018.8 1143.5,1018.8 1145.5,1018.8 1147.5,1018.8 1149.5,1018.8 1151.5,1018.7 1153.5,1018.7 1155.5,1018.7 1157.5,1018.7 1159.5,1018.7 1161.5,1018.7 1163.5,1018.7 1165.5,1018.7 1167.5,1018.7 1169.5,1018.7 1171.5,1018.6 1173.5,1018.6 1175.5,1018.6 1177.5,1018.6 1179.5,1018.6 1181.5,1018.6 1183.5,1018.6 1185.5,1018.5 1187.5,1018.5 1189.5,1018.5 1191.5,1018.5 1193.5,1018.5 1195.5,1018.5 1197.5,1018.4 1199.5,1018.4 1201.5,1018.4 1203.5,1018.4 1205.5,1018.4 1207.5,1018.3 1209.5,1018.3 1211.5,1018.3 1213.5,1018.3 1215.5,1018.3 1217.5,1018.2 1219.5,1018.2 1221.5,1018.2 1223.5,1018.2 1225.5,1018.2 1227.5,1018.2 1229.5,1018.1 1231.5,1018.1 1233.5,1018.1 1235.5,1018.1 1237.5,1018.1 1239.5,1018.0 1241.5,1018.0 1243.5,1018.0 1245.5,1018.0 1247.5,1018.0 1249.5,1017.9 1251.5,1017.9 1253.5,1017.9 1255.5,1017.9 1257.5,1017.9 1259.5,1017.9 1261.5,1017.8 1263.5,1017.8 1265.5,1017.8 1267.5,1017.8 1269.5,1017.8 1271.5,1017.7 1273.5,1017.7 1275.5,1017.7 1277.5,1017.7 1279.5,1017.7 1281.5,1017.6 1283.5,1017.6 1285.5,1017.6 1287.5,1017.6 1289.5,1017.6 1291.5,1017.6 1293.5,1017.5 1295.5,1017.5 1297.5,1017.5 1299.5,1017.5 1301.5,1017.5 1303.5,1017.4 1305.5,1017.4 1307.5,1017.4 1309.5,1017.4 1311.5,1017.4 1313.5,1017.3 1315.5,1017.3 1317.5,1017.3 1319.5,1017.3 1321.5,1017.2 1323.5,1017.2 1325.5,1017.2 1327.5,1017.2 1329.5,1017.2 1331.5,1017.1 1333.5,1017.1 1335.5,1017.1 1337.5,1017.1 1339.5,1017.1 1341.5,1017.0 1343.5,1017.0 1345.5,1017.0 1347.5,1017.0 1349.5,1017.0 1351.5,1016.9 1353.5,1016.9 1355.5,1016.9 1357.5,1016.9 1359.5,1016.9 1361.5,1016.8 1363.5,1016.8 1365.5,1016.8 1367.5,1016.8 1369.5,1016.8 1371.5,1016.7 1373.5,1016.7 1375.5,1016.7 1377.5,1016.7 1379.5,1016.6 1381.5,1016.6 1383.5,1016.6 1385.5,1016.6 1387.5,1016.6 1389.5,1016.5 1391.5,1016.5 1393.5,1016.5 1395.5,1016.5 1397.5,1016.4 1399.5,1016.4 1401.5,1016.4 1403.5,1016.4 1405.5,1016.3 1407.5,1016.3 1409.5,1016.3 1411.5,1016.3 1413.5,1016.3 1415.5,1016.2 1417.5,1016.2 1419.5,1016.2 1421.5,1016.2 1423.5,1016.1 1425.5,1016.1 1427.5,1016.1 1429.5,1016.1 1431.5,1016.0 1433.5,1016.0 1435.5,1016.0 1437.5,1016.0 1439.5,1016.0 1441.5,1015.9 1443.5,1015.9 1445.5,1015.9 1447.5,1015.9 1449.5,1015.9 1451.5,1015.8 1453.5,1015.8 1455.5,1015.8 1457.5,1015.8 1459.5,1015.8 1461.5,1015.8 1463.5,1015.8 1465.5,1015.7 1467.5,1015.7 1469.5,1015.7 1471.5,1015.7 1473.5,1015.7 1475.5,1015.7 1477.5,1015.7 1479.5,1015.7 1481.5,1015.7 1483.5,1015.6 1485.5,1015.6 1487.5,1015.6 1489.5,1015.6 1491.5,1015.6 1493.5,1015.6 1495.5,1015.6 1497.5,1015.6 1499.5,1015.6 1501.5,1015.5 1503.5,1015.5 1505.5,1015.5 1507.5,1015.5 1509.5,1015.5 1511.5,1015.5 1513.5,1015.5 1515.5,1015.5 1517.5,1015.5 1519.5,1015.5 1521.5,1015.4 1523.5,1015.4 1525.5,1015.4 1527.5,1015.4 1529.5,1015.4 1531.5,1015.4 1533.5,1015.4 1535.5,1015.4 1537.5,1015.4 1539.5,1015.4 1541.5,1015.4 1543.5,1015.5 1545.5,1015.5 1547.5,1015.5 1549.5,1015.5 1551.5,1015.6 1553.5,1015.6 1555.5,1015.7 1557.5,1015.7 1559.5,1015.8 1561.5,1015.9 1563.5,1016.0 1565.5,1016.0 1567.5,1016.1 1569.5,1016.2 1571.5,1016.3 1573.5,1016.4 1575.5,1016.5 1577.5,1016.6 1579.5,1016.7 1581.5,1016.9 1583.5,1017.0 1585.5,1017.1 1587.5,1017.3 1589.5,1017.4 1591.5,1017.6 1593.5,1017.7 1595.5,1017.9 1597.5,1018.1 1599.4,1018.2 1601.4,1018.5 1603.4,1018.8 1605.4,1019.1 1607.3,1019.5 1609.3,1019.8 1611.3,1020.2 1613.2,1020.6 1615.2,1021.0 1617.1,1021.5 1619.0,1022.2 1620.8,1022.9 1622.7,1023.7 1624.5,1024.4 1626.4,1025.2 1628.2,1026.1 1629.9,1027.1 1631.6,1028.1 1633.3,1029.2 1634.9,1030.3 1636.5,1031.5 1638.0,1032.8 1639.4,1034.2 1640.7,1035.8 1641.9,1037.3 1643.1,1038.9 1644.1,1040.6 1644.9,1042.4 1645.5,1044.3 1646.1,1046.2 1646.6,1048.1 1647.1,1050.1 1647.4,1052.0 1647.5,1054.0 1647.7,1056.0 1647.8,1058.0 1647.9,1060.0 1648.0,1062.0 1648.0,1063.0" fill="none" stroke="#37AE6C" stroke-width="5.0" stroke-linejoin="round" stroke-linecap="butt"/>
<g font-size="50" text-anchor="end">
<text transform="translate(232.6,1260.5) scale(1,1.040)">0</text>
<text transform="translate(232.6,1114.8) scale(1,1.040)">5</text>
<text transform="translate(232.6,969.1) scale(1,1.040)">10</text>
<text transform="translate(232.6,823.4) scale(1,1.040)">15</text>
<text transform="translate(232.6,677.7) scale(1,1.040)">20</text>
<text transform="translate(232.6,532.0) scale(1,1.040)">25</text>
<text transform="translate(232.6,386.3) scale(1,1.040)">30</text>
<text transform="translate(232.6,240.6) scale(1,1.040)">35</text>
<text transform="translate(232.6,94.9) scale(1,1.040)">40</text>
</g>
<g font-size="50" text-anchor="middle">
<text transform="translate(271.9,1323.8) scale(1,1.040)">0</text>
<text transform="translate(442.2,1323.8) scale(1,1.040)">20</text>
<text transform="translate(612.4,1323.8) scale(1,1.040)">40</text>
<text transform="translate(782.7,1323.8) scale(1,1.040)">60</text>
<text transform="translate(952.9,1323.8) scale(1,1.040)">80</text>
<text transform="translate(1123.2,1323.8) scale(1,1.040)">100</text>
<text transform="translate(1293.5,1323.8) scale(1,1.040)">120</text>
<text transform="translate(1463.7,1323.8) scale(1,1.040)">140</text>
<text transform="translate(1634.0,1323.8) scale(1,1.040)">160</text>
</g>
<text transform="translate(995.8,1413.6) scale(1,1.040)" font-size="60.5" text-anchor="middle">Strain ε (%)</text>
<text transform="translate(110.5,622) rotate(-90) scale(1,1.040)" font-size="60.5" text-anchor="middle">Stress σ (MPa)</text>
<rect x="1119" y="88.7" width="517.2" height="338.7" fill="none" stroke="#000" stroke-width="5.2"/>
<path d="M1128.0,129.2H1261.2" stroke="#595959" stroke-width="5.2" stroke-linecap="round"/>
<path d="M1128.0,203.3H1261.2" stroke="#EE3B40" stroke-width="5.4" stroke-linecap="round"/>
<path d="M1128.0,289.6H1261.2" stroke="#4172B8" stroke-width="4.8" stroke-linecap="round"/>
<path d="M1128.0,376.1H1261.2" stroke="#37AE6C" stroke-width="5.4" stroke-linecap="round"/>
<g font-size="60">
<text transform="translate(1276,150) scale(1,1.040)">PHB</text>
<text transform="translate(1276,222.7) scale(1,1.040)">PHB<tspan font-size="39.5" dx="3" dy="15.19">70</tspan><tspan dy="-15.19">/BDF</tspan><tspan font-size="39.5" dx="0.5" dy="15.19">30</tspan></text>
<text transform="translate(1276,309.0) scale(1,1.040)">PHB<tspan font-size="39.5" dx="3" dy="15.19">70</tspan><tspan dy="-15.19">/PDF</tspan><tspan font-size="39.5" dx="0.5" dy="15.19">30</tspan></text>
<text transform="translate(1276,395.5) scale(1,1.040)">PHB<tspan font-size="39.5" dx="3" dy="15.19">70</tspan><tspan dy="-15.19">/GTF</tspan><tspan font-size="39.5" dx="0.5" dy="15.19">30</tspan></text>
</g>
</svg>
</body></html>
